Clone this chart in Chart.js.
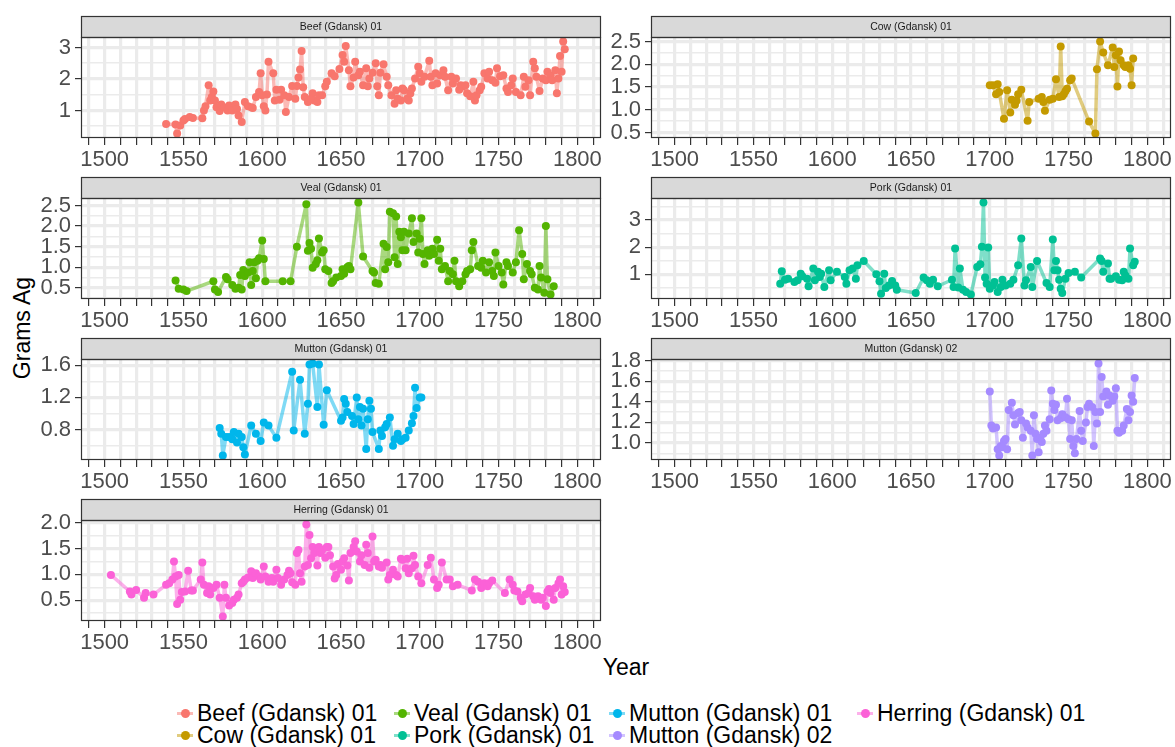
<!DOCTYPE html>
<html>
<head>
<meta charset="utf-8">
<script src="https://cdn.jsdelivr.net/npm/chart.js@4.4.0/dist/chart.umd.min.js"></script>
<style>
  body { margin: 0; background: #fff; font-family: "Liberation Sans", Arial, sans-serif; }
  #page { position: relative; width: 1175px; height: 747px; overflow: hidden; }
  #page canvas { position: absolute; }
  .axis-title { position: absolute; font-size: 23px; color: #000; white-space: nowrap; }
  .legend-item { position: absolute; height: 24px; display: flex; align-items: center; font-size: 23px; color: #000; white-space: nowrap; }
  .legend-key { position: relative; width: 18px; height: 24px; margin-right: 3px; }
  .legend-key .ln { position: absolute; left: 1px; right: 1px; top: 10.5px; height: 3px; }
  .legend-key .dot { position: absolute; left: 4.5px; top: 7.5px; width: 9px; height: 9px; border-radius: 50%; }
</style>
</head>
<body>
<div id="page">
  <div class="axis-title" style="left:626px; top:667px; transform:translate(-50%,-50%);">Year</div>
  <div class="axis-title" style="left:22px; top:328px; transform:translate(-50%,-50%) rotate(-90deg);">Grams Ag</div>
</div>
<script>
// x axis: grid every 10 years, labels every 50
var xTickLabels = [1500, 1550, 1600, 1650, 1700, 1750, 1800];

var seriesNames = ['Beef (Gdansk) 01', 'Cow (Gdansk) 01', 'Veal (Gdansk) 01', 'Pork (Gdansk) 01',
                   'Mutton (Gdansk) 01', 'Mutton (Gdansk) 02', 'Herring (Gdansk) 01'];
var seriesColors = ['#F8766D', '#C49A00', '#53B400', '#00C094', '#00B6EB', '#A58AFF', '#FB61D7'];

// [year, grams of silver]
var beef = [[1539,0.57],[1545,0.55],[1546,0.27],[1548,0.52],[1550,0.68],[1551,0.73],[1554,0.79],[1556,0.76],[1562,0.75],[1563,1.0],[1564,1.13],[1566,1.8],[1567,1.32],[1568,1.43],[1569,1.6],[1570,1.32],[1571,1.1],[1573,0.98],[1574,1.19],[1576,1.09],[1578,1.0],[1579,1.16],[1581,1.0],[1583,1.19],[1584,1.05],[1585,0.84],[1587,0.63],[1589,1.27],[1591,1.13],[1593,1.1],[1594,1.08],[1596,1.43],[1598,1.59],[1599,2.18],[1600,1.48],[1601,1.13],[1602,1.0],[1603,1.51],[1604,2.55],[1607,2.18],[1608,1.32],[1609,1.66],[1611,1.34],[1612,1.66],[1614,1.48],[1615,0.95],[1617,1.43],[1619,1.78],[1621,1.37],[1622,1.78],[1623,2.05],[1624,2.3],[1625,2.89],[1626,1.74],[1627,1.43],[1629,1.27],[1631,1.37],[1632,1.55],[1633,1.32],[1635,1.27],[1636,1.48],[1638,1.48],[1640,1.77],[1641,1.91],[1644,2.18],[1646,2.09],[1649,2.32],[1651,2.76],[1652,2.55],[1653,3.05],[1655,2.28],[1656,1.77],[1658,2.05],[1659,2.55],[1661,2.12],[1662,2.23],[1664,1.8],[1666,2.34],[1667,1.77],[1668,2.02],[1670,2.2],[1672,2.5],[1673,1.77],[1674,1.48],[1675,2.2],[1677,2.47],[1679,2.07],[1680,1.8],[1682,1.48],[1684,1.21],[1685,1.64],[1686,1.37],[1688,1.32],[1689,1.7],[1690,1.64],[1692,1.37],[1693,1.32],[1694,1.54],[1695,1.7],[1697,2.02],[1699,2.39],[1700,2.18],[1701,1.91],[1703,2.07],[1706,2.58],[1707,2.07],[1708,1.8],[1710,2.18],[1711,1.86],[1713,2.12],[1715,2.28],[1716,2.07],[1718,1.64],[1720,2.07],[1721,1.86],[1723,2.02],[1725,1.66],[1726,1.8],[1727,1.75],[1729,1.8],[1730,1.55],[1732,1.45],[1734,1.91],[1735,1.32],[1736,1.48],[1738,1.64],[1739,1.75],[1741,2.18],[1743,2.02],[1744,2.23],[1746,1.96],[1748,1.88],[1749,2.34],[1751,2.09],[1753,2.12],[1755,1.7],[1756,1.59],[1758,1.8],[1759,2.02],[1761,1.59],[1764,1.48],[1766,2.07],[1767,1.75],[1769,1.96],[1770,1.48],[1772,2.55],[1773,2.34],[1774,2.07],[1776,1.62],[1778,2.02],[1780,1.96],[1781,2.23],[1783,2.12],[1784,1.96],[1786,2.28],[1787,1.55],[1788,2.02],[1789,2.73],[1790,2.23],[1791,3.19],[1792,2.95]];

var cow = [[1700,1.54],[1702,1.54],[1704,1.34],[1705,1.56],[1706,1.39],[1709,0.80],[1711,1.43],[1713,0.94],[1714,1.22],[1716,1.11],[1717,1.20],[1718,1.34],[1720,1.44],[1724,0.76],[1725,1.17],[1731,1.24],[1733,1.28],[1734,1.17],[1735,0.98],[1738,1.22],[1740,1.24],[1742,1.67],[1744,1.28],[1745,2.39],[1746,1.30],[1747,1.34],[1748,1.41],[1749,1.46],[1751,1.65],[1752,1.69],[1763,0.74],[1767,0.48],[1768,1.89],[1770,2.50],[1772,2.26],[1775,1.98],[1778,2.37],[1779,1.94],[1780,2.20],[1781,1.51],[1782,2.28],[1783,2.09],[1785,1.98],[1786,1.94],[1788,1.98],[1789,1.90],[1790,1.54],[1791,2.13]];

var veal = [[1545,0.68],[1547,0.48],[1550,0.46],[1552,0.42],[1569,0.66],[1570,0.46],[1572,0.40],[1577,0.76],[1578,0.71],[1581,0.57],[1583,0.48],[1585,0.50],[1586,0.81],[1587,0.46],[1588,0.93],[1589,0.79],[1591,0.87],[1592,1.12],[1593,0.57],[1594,0.91],[1595,1.12],[1596,0.73],[1597,1.16],[1598,1.22],[1600,1.65],[1601,1.20],[1602,0.66],[1613,0.66],[1618,0.66],[1622,1.50],[1628,2.53],[1629,1.40],[1630,1.59],[1631,1.45],[1632,0.99],[1634,1.08],[1635,1.17],[1636,1.70],[1638,1.36],[1639,1.41],[1640,0.95],[1642,0.91],[1644,0.62],[1645,0.66],[1647,0.75],[1650,0.79],[1651,0.95],[1652,0.84],[1654,1.00],[1655,1.03],[1656,0.95],[1661,2.57],[1664,1.26],[1670,0.91],[1671,0.87],[1672,0.62],[1674,0.60],[1677,1.57],[1678,0.95],[1679,1.49],[1680,1.12],[1681,2.35],[1683,2.31],[1684,1.24],[1685,2.23],[1686,1.08],[1687,1.86],[1688,1.73],[1689,1.41],[1690,1.86],[1691,1.41],[1693,1.82],[1695,2.19],[1696,1.61],[1698,1.82],[1699,1.36],[1700,1.69],[1701,2.19],[1702,1.32],[1703,1.08],[1705,1.41],[1706,1.28],[1708,1.45],[1709,1.32],[1711,1.67],[1712,1.16],[1713,1.45],[1714,0.95],[1716,1.03],[1718,0.66],[1719,0.91],[1721,0.83],[1722,1.16],[1723,0.66],[1725,0.54],[1727,0.66],[1729,0.83],[1730,0.91],[1732,0.95],[1733,1.41],[1734,1.61],[1737,1.03],[1739,0.99],[1740,1.16],[1742,0.87],[1744,1.12],[1746,0.91],[1747,0.79],[1748,1.36],[1750,1.03],[1752,0.87],[1753,0.58],[1755,1.12],[1756,1.03],[1759,0.87],[1761,1.12],[1763,1.90],[1765,1.32],[1766,0.71],[1768,1.08],[1770,0.91],[1771,0.83],[1773,0.50],[1775,0.46],[1776,1.03],[1777,0.75],[1779,0.38],[1780,2.00],[1781,0.71],[1783,0.34],[1785,0.54]];

var pork = [[1567,0.65],[1568,1.11],[1570,0.80],[1572,0.84],[1576,0.72],[1578,0.78],[1580,1.02],[1581,0.93],[1584,0.84],[1585,0.56],[1588,1.21],[1589,0.78],[1591,1.09],[1592,0.90],[1593,1.02],[1595,0.53],[1598,1.15],[1599,0.78],[1603,1.09],[1608,0.90],[1609,0.65],[1611,1.15],[1613,1.21],[1615,0.84],[1616,1.33],[1620,1.49],[1628,1.00],[1630,0.74],[1631,0.28],[1633,1.02],[1634,0.50],[1636,0.59],[1638,0.75],[1640,0.59],[1641,0.43],[1653,0.31],[1658,0.88],[1660,0.78],[1662,0.65],[1664,0.80],[1667,0.56],[1676,0.80],[1677,0.53],[1678,1.95],[1680,0.51],[1681,1.21],[1683,0.43],[1685,0.35],[1688,0.26],[1692,1.27],[1694,1.37],[1695,2.01],[1696,3.64],[1697,0.88],[1698,0.65],[1699,1.99],[1700,0.47],[1702,0.59],[1703,0.72],[1705,0.35],[1707,0.53],[1708,0.80],[1710,0.59],[1713,0.65],[1715,0.80],[1718,1.33],[1720,2.32],[1722,0.59],[1723,0.78],[1726,1.27],[1727,0.53],[1730,1.49],[1736,0.68],[1738,0.53],[1740,2.28],[1741,1.15],[1742,1.49],[1743,1.15],[1744,0.80],[1745,0.47],[1746,0.31],[1748,0.84],[1750,1.05],[1754,1.09],[1758,0.88],[1770,1.58],[1771,1.49],[1772,1.09],[1775,1.40],[1776,0.84],[1777,0.84],[1780,0.93],[1782,0.80],[1784,0.78],[1785,1.09],[1786,0.96],[1788,0.84],[1789,1.95],[1791,1.33],[1792,1.46]];

var mutton1 = [[1573,0.82],[1574,0.75],[1575,0.48],[1577,0.71],[1579,0.71],[1581,0.68],[1582,0.77],[1584,0.64],[1585,0.75],[1587,0.71],[1588,0.58],[1589,0.49],[1593,0.85],[1596,0.75],[1599,0.66],[1601,0.89],[1604,0.85],[1609,0.70],[1619,1.52],[1620,0.79],[1624,1.42],[1627,0.75],[1629,1.12],[1630,1.61],[1632,1.62],[1635,1.08],[1636,1.61],[1639,0.86],[1641,1.29],[1650,0.91],[1651,0.95],[1652,1.18],[1653,1.12],[1654,1.02],[1657,0.97],[1658,0.87],[1660,1.20],[1661,0.93],[1662,1.08],[1663,0.85],[1664,1.06],[1666,0.56],[1667,0.93],[1668,1.16],[1669,1.06],[1670,0.77],[1674,0.56],[1675,0.79],[1676,0.72],[1678,0.83],[1679,0.87],[1681,0.95],[1683,0.60],[1684,0.68],[1686,0.75],[1688,0.66],[1689,0.68],[1691,0.70],[1693,0.79],[1695,0.88],[1696,0.97],[1697,1.32],[1698,1.07],[1700,1.20],[1701,1.20]];

var mutton2 = [[1700,1.50],[1701,1.17],[1702,1.14],[1704,1.15],[1705,0.94],[1706,0.88],[1707,0.97],[1708,0.96],[1709,1.02],[1710,1.04],[1711,0.94],[1712,1.32],[1714,1.39],[1715,1.27],[1716,1.18],[1718,1.29],[1719,1.30],[1720,1.22],[1721,1.05],[1723,1.19],[1724,1.15],[1726,1.12],[1727,0.88],[1728,1.27],[1729,1.09],[1730,1.04],[1731,0.91],[1732,1.05],[1733,1.01],[1734,1.09],[1735,1.17],[1736,1.12],[1738,1.23],[1739,1.51],[1740,1.38],[1741,1.32],[1742,1.37],[1743,1.22],[1745,1.24],[1746,1.28],[1748,1.25],[1749,1.43],[1750,1.23],[1751,1.04],[1752,1.22],[1753,0.97],[1754,0.90],[1755,1.04],[1757,1.31],[1758,1.12],[1759,1.02],[1761,1.20],[1762,1.35],[1763,1.38],[1765,1.35],[1766,0.97],[1767,1.30],[1768,1.19],[1769,1.77],[1770,1.30],[1771,1.64],[1772,1.45],[1774,1.50],[1775,1.37],[1776,1.46],[1778,1.41],[1779,1.45],[1780,1.53],[1781,1.12],[1782,1.10],[1784,1.12],[1785,1.17],[1787,1.33],[1788,1.22],[1789,1.30],[1790,1.46],[1791,1.40],[1792,1.63]];

var herring = [[1504,0.99],[1516,0.67],[1517,0.61],[1520,0.70],[1525,0.55],[1526,0.64],[1531,0.61],[1539,0.80],[1541,0.83],[1543,0.90],[1544,1.25],[1545,0.96],[1546,0.43],[1547,0.99],[1548,0.51],[1549,0.66],[1551,0.67],[1553,1.07],[1555,0.69],[1556,0.69],[1561,0.90],[1562,1.23],[1563,0.80],[1565,0.64],[1566,0.77],[1567,0.61],[1569,0.74],[1571,0.80],[1573,0.55],[1575,0.19],[1576,0.80],[1577,0.55],[1579,0.40],[1581,0.45],[1582,0.51],[1584,0.55],[1585,0.61],[1587,0.83],[1588,0.86],[1589,0.90],[1591,0.94],[1593,1.06],[1594,0.93],[1596,1.02],[1598,0.96],[1599,0.90],[1601,1.15],[1602,0.96],[1604,0.86],[1606,0.93],[1607,0.86],[1609,1.09],[1610,0.93],[1612,0.80],[1614,0.90],[1616,0.99],[1617,1.07],[1618,1.02],[1619,0.85],[1621,0.80],[1622,1.41],[1623,1.47],[1624,1.02],[1625,0.86],[1627,1.15],[1628,1.96],[1629,1.18],[1630,1.76],[1631,1.31],[1632,1.53],[1633,1.41],[1635,1.17],[1636,1.53],[1637,1.41],[1638,1.47],[1640,1.32],[1641,1.53],[1642,1.53],[1643,1.37],[1645,1.15],[1646,0.92],[1647,0.99],[1648,1.20],[1650,1.09],[1651,1.25],[1652,1.31],[1654,1.17],[1655,0.88],[1656,1.41],[1658,1.53],[1659,1.64],[1660,1.44],[1662,1.25],[1663,1.37],[1665,1.18],[1666,1.57],[1667,1.41],[1668,1.13],[1670,1.73],[1671,1.25],[1672,1.28],[1674,1.15],[1675,1.18],[1676,1.13],[1679,1.23],[1680,0.90],[1681,0.99],[1683,1.09],[1685,0.99],[1686,0.96],[1688,1.30],[1689,1.28],[1691,1.12],[1692,1.30],[1693,1.02],[1695,1.12],[1696,1.36],[1697,1.18],[1699,0.96],[1701,0.83],[1705,1.18],[1707,1.32],[1709,0.90],[1711,0.74],[1712,0.80],[1714,1.23],[1717,0.90],[1719,0.90],[1721,0.77],[1724,0.80],[1733,0.69],[1735,0.90],[1737,0.86],[1739,0.74],[1740,0.80],[1741,0.83],[1743,0.77],[1744,0.83],[1746,0.88],[1754,0.64],[1757,0.90],[1759,0.80],[1760,0.69],[1762,0.67],[1764,0.55],[1765,0.48],[1767,0.61],[1769,0.64],[1770,0.74],[1772,0.58],[1773,0.51],[1775,0.58],[1777,0.51],[1778,0.55],[1780,0.39],[1781,0.67],[1782,0.72],[1783,0.64],[1785,0.51],[1786,0.74],[1788,0.83],[1789,0.90],[1790,0.61],[1791,0.77],[1792,0.66]];

var seriesData = [beef, cow, veal, pork, mutton1, mutton2, herring];

// labelled y ticks for each facet (free y scales)
var yTicksBeef = [1, 2, 3];
var yTicksCow = [0.5, 1.0, 1.5, 2.0, 2.5];
var yTicksVeal = [0.5, 1.0, 1.5, 2.0, 2.5];
var yTicksPork = [1, 2, 3];
var yTicksMutton1 = [0.8, 1.2, 1.6];
var yTicksMutton2 = [1.0, 1.2, 1.4, 1.6, 1.8];
var yTicksHerring = [0.5, 1.0, 1.5, 2.0];
var yTickSets = [yTicksBeef, yTicksCow, yTicksVeal, yTicksPork, yTicksMutton1, yTicksMutton2, yTicksHerring];
var yDigits = [0, 1, 1, 0, 1, 1, 1];

Chart.defaults.font.family = '"Liberation Sans", Arial, sans-serif';

var page = document.getElementById('page');
var tickFont = { size: 22 };
var gridColor = '#ebebeb';
var darkLine = '#333333';

function hexToRgba(hex, a) {
  var n = parseInt(hex.slice(1), 16);
  return 'rgba(' + (n >> 16) + ',' + ((n >> 8) & 255) + ',' + (n & 255) + ',' + a + ')';
}

// grey strip on top + panel border, like facet_wrap
var facetFrame = {
  id: 'facetFrame',
  afterDraw: function(chart, args, opts) {
    var a = chart.chartArea, ctx = chart.ctx;
    ctx.save();
    ctx.fillStyle = '#d9d9d9';
    ctx.fillRect(a.left, a.top - 21, a.right - a.left, 21);
    ctx.strokeStyle = darkLine;
    ctx.lineWidth = 1.2;
    ctx.strokeRect(a.left + 0.5, a.top - 20.5, a.right - a.left - 1, 21);
    ctx.strokeRect(a.left + 0.5, a.top + 0.5, a.right - a.left - 1, a.bottom - a.top - 1);
    ctx.fillStyle = '#1a1a1a';
    ctx.font = '10.5px "Liberation Sans", Arial, sans-serif';
    ctx.textAlign = 'center';
    ctx.textBaseline = 'middle';
    ctx.fillText(opts.label, (a.left + a.right) / 2, a.top - 10);
    ctx.restore();
  }
};

var xBreaks = [];
for (var yr = 1490; yr <= 1810; yr += 10) xBreaks.push(yr);

function makePanel(i) {
  var col = i % 2, row = Math.floor(i / 2);
  var pts = seriesData[i];
  var major = yTickSets[i];
  var vals = pts.map(function(d) { return d[1]; });
  var lo = Math.min.apply(null, vals), hi = Math.max.apply(null, vals);
  var pad = (hi - lo) * 0.05;
  var yMin = lo - pad, yMax = hi + pad;
  var step = (major[1] - major[0]) / 2;
  var yBreaks = [];
  for (var k = -1; k <= 2 * major.length; k++) {
    var v = +(major[0] + k * step).toFixed(4);
    if (v > yMin && v < yMax) yBreaks.push(v);
  }
  function isMajor(v) {
    return major.some(function(m) { return Math.abs(m - v) < 1e-6; });
  }

  var canvas = document.createElement('canvas');
  var left = col === 0 ? 0 : 570;
  var width = col === 0 ? 606 : 605;
  canvas.width = width;
  canvas.height = 159;
  canvas.style.left = left + 'px';
  canvas.style.top = (14 + row * 161) + 'px';
  page.appendChild(canvas);

  new Chart(canvas, {
    type: 'line',
    data: {
      datasets: [{
        data: pts.map(function(d) { return { x: d[0], y: d[1] }; }),
        borderColor: hexToRgba(seriesColors[i], 0.5),
        borderWidth: 3.5,
        borderJoinStyle: 'round',
        borderCapStyle: 'round',
        pointRadius: 4,
        pointHoverRadius: 4,
        pointBackgroundColor: seriesColors[i],
        pointBorderWidth: 0,
        tension: 0
      }]
    },
    options: {
      responsive: false,
      animation: false,
      events: [],
      layout: { padding: { top: 23, right: width - 601, left: 0, bottom: 0 } },
      plugins: {
        legend: { display: false },
        tooltip: { enabled: false },
        facetFrame: { label: seriesNames[i] }
      },
      scales: {
        x: {
          type: 'linear',
          min: 1485,
          max: 1815,
          bounds: 'data',
          afterBuildTicks: function(s) { s.ticks = xBreaks.map(function(v) { return { value: v }; }); },
          afterFit: function(s) { s.height = 35; },
          ticks: {
            autoSkip: false,
            maxRotation: 0,
            padding: 2,
            color: '#4d4d4d',
            font: tickFont,
            callback: function(v) { return xTickLabels.indexOf(v) >= 0 ? String(v) : ''; }
          },
          grid: { color: gridColor, lineWidth: 3.2, tickLength: 7, tickColor: darkLine, tickWidth: 1.2 },
          border: { display: false }
        },
        y: {
          type: 'linear',
          min: yMin,
          max: yMax,
          bounds: 'data',
          afterBuildTicks: function(s) { s.ticks = yBreaks.map(function(v) { return { value: v }; }); },
          afterFit: function(s) { s.width = 81; },
          ticks: {
            autoSkip: false,
            padding: 4,
            color: '#4d4d4d',
            font: tickFont,
            callback: function(v) { return isMajor(v) ? v.toFixed(yDigits[i]) : ''; }
          },
          grid: {
            color: gridColor,
            lineWidth: function(ctx) { return ctx.tick && isMajor(ctx.tick.value) ? 3.2 : 1.6; },
            tickLength: 6,
            tickColor: function(ctx) { return ctx.tick && isMajor(ctx.tick.value) ? darkLine : 'rgba(0,0,0,0)'; },
            tickWidth: 1.2
          },
          border: { display: false }
        }
      }
    },
    plugins: [facetFrame]
  });
}

for (var i = 0; i < seriesData.length; i++) makePanel(i);

// legend: two rows, filled column by column
var legendX = [185, 402, 617, 865];
var legendY = [713, 735];
seriesNames.forEach(function(name, i) {
  var item = document.createElement('div');
  item.className = 'legend-item';
  item.style.left = (legendX[Math.floor(i / 2)] - 9) + 'px';
  item.style.top = (legendY[i % 2] - 12) + 'px';
  item.innerHTML = '<span class="legend-key"><span class="ln" style="background:' + hexToRgba(seriesColors[i], 0.5) +
    '"></span><span class="dot" style="background:' + seriesColors[i] + '"></span></span><span>' + name + '</span>';
  page.appendChild(item);
});
</script>
</body>
</html>
